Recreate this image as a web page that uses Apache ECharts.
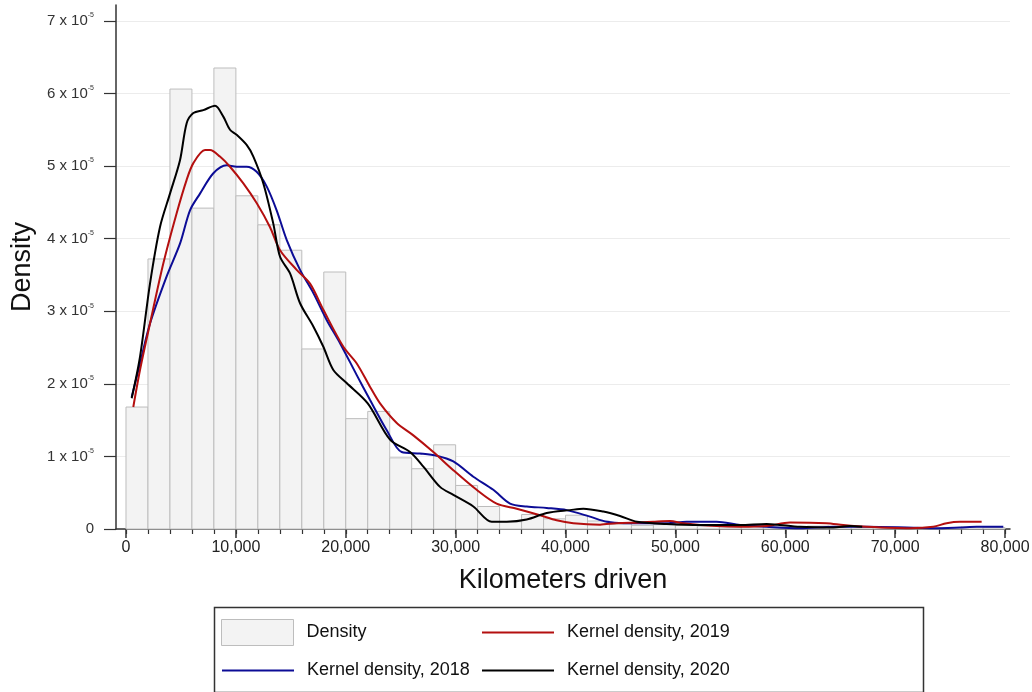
<!DOCTYPE html>
<html>
<head>
<meta charset="utf-8">
<script src="https://cdn.jsdelivr.net/npm/echarts@6/dist/echarts.min.js"></script>
<style>
  html, body { margin: 0; padding: 0; background: #fff; }
  #chart { width: 1032px; height: 692px; }
</style>
</head>
<body>
<div id="chart"></div>
<script>
// 直方图：每 2000 km 一个区间，数值单位 1e-5
const binWidth = 2000
const binStarts = [0, 2000, 4000, 6000, 8000, 10000, 12000, 14000, 16000, 18000,
  20000, 22000, 24000, 26000, 28000, 30000, 32000, 34000, 36000, 38000,
  40000, 42000, 44000, 46000, 48000, 50000, 52000, 54000, 56000, 58000,
  60000, 62000, 64000, 66000, 68000, 70000, 72000, 74000, 76000, 78000]
const binDensity = [1.68, 3.72, 6.06, 4.42, 6.35, 4.59, 4.19, 3.84, 2.48, 3.54,
  1.52, 1.62, 0.98, 0.83, 1.16, 0.60, 0.31, 0.10, 0.20, 0.14,
  0.19, 0.11, 0.07, 0.05, 0.06, 0.05, 0.04, 0.03, 0.04, 0.03,
  0.03, 0.04, 0.02, 0.03, 0.02, 0.02, 0.01, 0.02, 0.03, 0.02]

// 核密度 2018（蓝）
const km2018 = [519, 1274, 2184, 3700, 4914, 5825, 6735, 7950, 9160, 10070, 10980, 11890, 12800, 13710,
  14630, 15840, 17050, 18260, 19480, 21000, 22200, 23730, 25090, 26750, 28270, 29790, 31610, 33430,
  34950, 36470, 38290, 40110, 42230, 43750, 45260, 47500, 49200, 51020, 53750, 55880, 58300, 61340,
  64370, 67400, 71050, 73470, 75900, 77420, 79840]
const kd2018 = [1.82, 2.28, 2.83, 3.48, 3.93, 4.39, 4.62, 4.90, 5.01, 4.99, 4.99, 4.92, 4.72, 4.39,
  3.98, 3.57, 3.25, 2.88, 2.56, 2.12, 1.78, 1.36, 1.06, 1.04, 1.01, 0.93, 0.72, 0.54,
  0.35, 0.31, 0.29, 0.26, 0.17, 0.10, 0.08, 0.08, 0.08, 0.10, 0.10, 0.055, 0.03, 0.01,
  0.03, 0.03, 0.02, 0.01, 0.02, 0.03, 0.03]

// 核密度 2019（红）
const km2019 = [664, 1274, 2184, 3400, 4610, 5520, 6130, 7190, 7645, 8550, 9465, 10680, 11890, 13100,
  14020, 15530, 16750, 17960, 19780, 21000, 22200, 23120, 24640, 26150, 27970, 29790, 31910, 33730,
  35560, 37680, 39190, 40710, 43140, 44660, 46780, 47970, 49510, 50700, 53750, 55880, 58300, 60430,
  63760, 65280, 67400, 71350, 73470, 74680, 75900, 77870]
const kd2019 = [1.68, 2.19, 2.83, 3.66, 4.35, 4.81, 5.04, 5.22, 5.22, 5.13, 4.99, 4.76, 4.49, 4.16,
  3.84, 3.57, 3.38, 3.02, 2.51, 2.28, 1.96, 1.73, 1.46, 1.29, 1.06, 0.81, 0.54, 0.35,
  0.28, 0.19, 0.12, 0.08, 0.06, 0.08, 0.09, 0.10, 0.11, 0.08, 0.04, 0.03, 0.04, 0.09,
  0.08, 0.055, 0.03, 0.01, 0.03, 0.08, 0.10, 0.10]

// 核密度 2020（黑）
const km2020 = [519, 1274, 2184, 3094, 4004, 4914, 5521, 6128, 7037, 8100, 8858, 9465, 10070, 10980,
  11590, 12500, 13400, 14020, 14930, 15840, 17050, 17960, 18870, 20080, 22000, 24030, 25850, 27060,
  28580, 29790, 31610, 33280, 34650, 36470, 38290, 40410, 41620, 43440, 44960, 46500, 49200, 52240,
  55880, 58300, 61340, 64370, 65890, 67000]
const kd2020 = [1.80, 2.37, 3.38, 4.16, 4.62, 5.08, 5.59, 5.73, 5.77, 5.83, 5.68, 5.50, 5.43, 5.29,
  5.13, 4.76, 4.21, 3.75, 3.52, 3.11, 2.79, 2.51, 2.19, 2.01, 1.73, 1.23, 1.06, 0.86,
  0.58, 0.47, 0.31, 0.10, 0.10, 0.13, 0.22, 0.26, 0.28, 0.24, 0.18, 0.10, 0.07, 0.055,
  0.055, 0.07, 0.03, 0.02, 0.04, 0.03]

// 刻度
const yTicks = [0, 1, 2, 3, 4, 5, 6, 7]
const xMajorTicks = [0, 10000, 20000, 30000, 40000, 50000, 60000, 70000, 80000]
const xMinorTicks = []
for (let v = 0; v <= 80000; v += 2000) xMinorTicks.push(v)

const FONT = 'Liberation Sans, Arial, sans-serif'

function pairs(xs, ys) {
  const out = []
  for (let i = 0; i < xs.length; i++) out.push([xs[i], ys[i]])
  return out
}

// 单个图例项
function legendItem(item, left, top) {
  return {
    orient: 'vertical',
    left: left,
    top: top,
    padding: 0,
    itemWidth: 72,
    itemHeight: 26,
    selectedMode: false,
    textStyle: { fontFamily: FONT, fontSize: 18, color: '#111', padding: [0, 0, 0, 8] },
    data: [item]
  }
}

const histData = binStarts.map((s, i) => [s, s + binWidth, binDensity[i]])

const myChart = echarts.init(document.getElementById('chart'))
const option = {
  animation: false,
  grid: { left: 116, right: 22, top: 5, bottom: 163, outerBoundsMode: 'none', containLabel: false },
  xAxis: [
    {
      type: 'value',
      min: -910,
      max: 80450,
      name: 'Kilometers driven',
      nameLocation: 'middle',
      nameGap: 38,
      nameTextStyle: { fontFamily: FONT, fontSize: 27, color: '#111' },
      axisLine: { show: true, onZero: false, lineStyle: { color: '#333', width: 1.5 } },
      axisTick: { show: true, length: 9, customValues: xMajorTicks, lineStyle: { color: '#333', width: 1.5 } },
      axisLabel: {
        customValues: xMajorTicks,
        fontFamily: FONT,
        fontSize: 16,
        color: '#222',
        margin: 11,
        formatter: v => v === 0 ? '0' : v.toLocaleString('en-US')
      },
      splitLine: { show: false }
    },
    {
      type: 'value',
      min: -910,
      max: 80450,
      position: 'bottom',
      axisLine: { show: false, onZero: false },
      axisTick: { show: true, length: 5, customValues: xMinorTicks, lineStyle: { color: '#333', width: 1.2 } },
      axisLabel: { show: false },
      splitLine: { show: false }
    }
  ],
  yAxis: {
    type: 'value',
    min: 0,
    max: 7.218,
    name: 'Density',
    nameLocation: 'middle',
    nameGap: 79,
    nameTextStyle: { fontFamily: FONT, fontSize: 27, color: '#111' },
    axisLine: { show: true, onZero: false, lineStyle: { color: '#333', width: 1.5 } },
    axisTick: { show: true, length: 12, customValues: yTicks, lineStyle: { color: '#333', width: 1.2 } },
    axisLabel: {
      customValues: yTicks,
      margin: 22,
      fontFamily: FONT,
      fontSize: 15,
      color: '#333',
      formatter: v => v === 0 ? '0' : '{a|' + v + ' x 10}{s|-5}',
      rich: {
        a: { fontFamily: FONT, fontSize: 15, color: '#333', lineHeight: 18 },
        s: { fontFamily: FONT, fontSize: 7, color: '#333', lineHeight: 8, verticalAlign: 'top' }
      }
    },
    splitLine: { show: true, lineStyle: { color: '#ececec', width: 1 } }
  },
  legend: [
    legendItem({ name: 'Density', icon: 'rect', itemStyle: { color: '#f3f3f3', borderColor: '#bdbdbd', borderWidth: 1 } }, 221, 619),
    legendItem({ name: 'Kernel density, 2018', itemStyle: { opacity: 0 } }, 221, 660),
    legendItem({ name: 'Kernel density, 2019', itemStyle: { opacity: 0 } }, 481, 622),
    legendItem({ name: 'Kernel density, 2020', itemStyle: { opacity: 0 } }, 481, 660)
  ],
  graphic: [
    {
      type: 'rect',
      left: 212,
      top: 605,
      shape: { width: 709, height: 85 },
      style: { fill: 'none', stroke: '#333', lineWidth: 1.5 },
      silent: true
    }
  ],
  series: [
    {
      name: 'Density',
      type: 'custom',
      itemStyle: { color: '#f3f3f3', borderColor: '#bdbdbd', borderWidth: 1 },
      encode: { x: [0, 1], y: 2 },
      renderItem: function(params, api) {
        const p0 = api.coord([api.value(0), api.value(2)])
        const p1 = api.coord([api.value(1), 0])
        return {
          type: 'rect',
          shape: { x: p0[0], y: p0[1], width: p1[0] - p0[0], height: p1[1] - p0[1] },
          style: { fill: '#f3f3f3', stroke: '#bdbdbd', lineWidth: 1 }
        }
      },
      data: histData,
      z: 1
    },
    {
      name: 'Kernel density, 2018',
      type: 'line',
      symbol: 'none',
      smooth: 0.3,
      lineStyle: { color: '#0c0c96', width: 2 },
      itemStyle: { color: '#0c0c96' },
      data: pairs(km2018, kd2018),
      z: 3
    },
    {
      name: 'Kernel density, 2019',
      type: 'line',
      symbol: 'none',
      smooth: 0.3,
      lineStyle: { color: '#b40f0f', width: 2 },
      itemStyle: { color: '#b40f0f' },
      data: pairs(km2019, kd2019),
      z: 3
    },
    {
      name: 'Kernel density, 2020',
      type: 'line',
      symbol: 'none',
      smooth: 0.3,
      lineStyle: { color: '#000000', width: 2 },
      itemStyle: { color: '#000000' },
      data: pairs(km2020, kd2020),
      z: 4
    }
  ]
}
myChart.setOption(option)
</script>
</body>
</html>
